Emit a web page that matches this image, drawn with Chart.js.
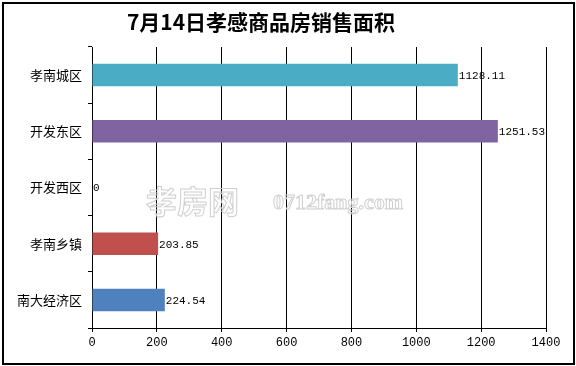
<!DOCTYPE html>
<html lang="zh">
<head>
<meta charset="UTF-8">
<title>7月14日孝感商品房销售面积</title>
<style>
    html, body { margin: 0; padding: 0; background: #fff; }
    #wrap { width: 576px; height: 366px; }
</style>
</head>
<body>
<div id="wrap"><canvas id="chart" width="576" height="366"></canvas></div>
<script src="https://cdn.jsdelivr.net/npm/chart.js"></script>
<script>
const titleText = '7月14日孝感商品房销售面积';
const districts = ['孝南城区', '开发东区', '开发西区', '孝南乡镇', '南大经济区'];
const areas = [1128.11, 1251.53, 0, 203.85, 224.54];
const barColors = ['#4BACC6', '#8064A2', '#8064A2', '#C0504D', '#4F81BD'];
const xMin = 0, xMax = 1400, xStep = 200;

const cjk = '"Noto Sans CJK SC", sans-serif';
const mono = '"Liberation Mono", monospace';

// white background, outer frame, title and the faint watermark
const frame = {
    id: 'frame',
    beforeDraw(chart) {
        const c = chart.ctx;
        c.save();
        c.fillStyle = '#fff';
        c.fillRect(0, 0, chart.width, chart.height);
        c.strokeStyle = '#000';
        c.lineWidth = 2;
        c.strokeRect(3, 3, chart.width - 5, chart.height - 5);
        c.fillStyle = '#000';
        c.font = 'bold 21px ' + cjk;
        c.textAlign = 'center';
        c.textBaseline = 'middle';
        c.fillText(titleText, 261, 22);
        c.restore();
    },
    beforeDatasetsDraw(chart) {
        const c = chart.ctx;
        c.save();
        c.strokeStyle = '#cfcfcf';
        c.lineWidth = 1;
        c.textBaseline = 'middle';
        c.font = 'bold 31px ' + cjk;
        c.strokeText('孝房网', 146, 201);
        c.font = 'bold 22px "Liberation Serif", serif';
        c.strokeText('0712fang.com', 273, 203);
        c.restore();
    }
};

// value printed right after the end of each bar
const valueLabels = {
    id: 'valueLabels',
    afterDatasetsDraw(chart) {
        const c = chart.ctx;
        const meta = chart.getDatasetMeta(0);
        c.save();
        c.fillStyle = '#000';
        c.font = '11px ' + mono;
        c.textBaseline = 'middle';
        c.textAlign = 'left';
        meta.data.forEach((bar, i) => {
            c.fillText(String(areas[i]), bar.x + 1, bar.y + 1);
        });
        c.restore();
    }
};

new Chart(document.getElementById('chart'), {
    type: 'bar',
    data: {
        labels: districts,
        datasets: [{
            data: areas,
            backgroundColor: barColors,
            borderWidth: 0,
            barPercentage: 0.4,
            categoryPercentage: 1
        }]
    },
    options: {
        indexAxis: 'y',
        responsive: false,
        animation: false,
        layout: { padding: { left: 0, right: 30, top: 47, bottom: 0 } },
        plugins: {
            legend: { display: false },
            tooltip: { enabled: false },
            title: { display: false }
        },
        scales: {
            x: {
                min: xMin,
                max: xMax,
                ticks: {
                    stepSize: xStep,
                    color: '#000',
                    font: { family: mono, size: 12 },
                    padding: 4,
                    maxRotation: 0,
                    callback: v => String(v)
                },
                grid: { color: '#000', lineWidth: 1, tickLength: 4 },
                border: { color: '#000', width: 1 },
                afterFit(scale) { scale.height = 38; }
            },
            y: {
                offset: true,
                ticks: {
                    color: '#000',
                    font: { family: cjk, size: 13 },
                    padding: 6
                },
                grid: { offset: true, drawOnChartArea: false, color: '#000', tickLength: 4 },
                border: { color: '#000', width: 1 },
                afterFit(scale) { scale.width = 92; }
            }
        }
    },
    plugins: [frame, valueLabels]
});
</script>
</body>
</html>
